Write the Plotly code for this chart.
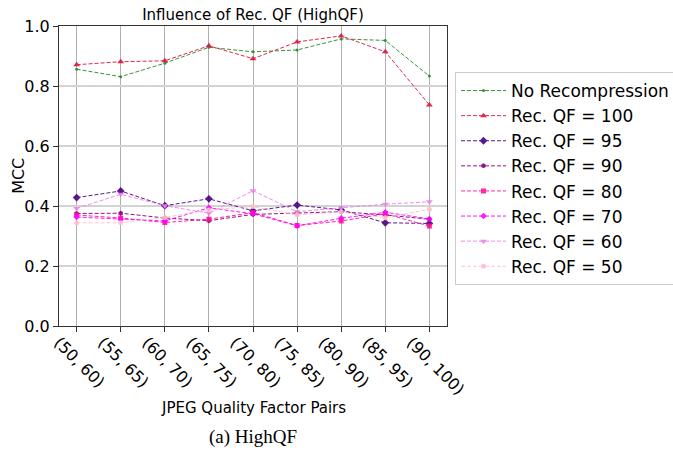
import plotly.graph_objects as go

pairs = ["(50, 60)", "(55, 65)", "(60, 70)", "(65, 75)", "(70, 80)",
         "(75, 85)", "(80, 90)", "(85, 95)", "(90, 100)"]

no_recomp = [0.856, 0.831, 0.876, 0.929, 0.914, 0.920, 0.957, 0.952, 0.833]
qf100 = [0.871, 0.881, 0.884, 0.934, 0.891, 0.947, 0.967, 0.914, 0.737]
qf95 = [0.428, 0.450, 0.401, 0.424, 0.384, 0.403, 0.387, 0.344, 0.342]
qf90 = [0.375, 0.376, 0.360, 0.351, 0.372, 0.376, 0.381, 0.370, 0.356]
qf80 = [0.370, 0.360, 0.345, 0.356, 0.378, 0.335, 0.350, 0.374, 0.333]
qf70 = [0.363, 0.356, 0.350, 0.394, 0.374, 0.334, 0.359, 0.379, 0.357]
qf60 = [0.392, 0.439, 0.401, 0.376, 0.451, 0.381, 0.394, 0.406, 0.414]
qf50 = [0.344, 0.344, 0.362, 0.387, 0.398, 0.370, 0.381, 0.361, 0.389]

series = [
    ("No Recompression", no_recomp, "#228b22", "circle", 3),
    ("Rec. QF = 100", qf100, "#dc143c", "triangle-up", 6),
    ("Rec. QF = 95", qf95, "#4b0082", "diamond", 6),
    ("Rec. QF = 90", qf90, "#800080", "hexagon", 5),
    ("Rec. QF = 80", qf80, "#ff1493", "square", 5),
    ("Rec. QF = 70", qf70, "#ff00ff", "diamond", 5),
    ("Rec. QF = 60", qf60, "#ee82ee", "triangle-down", 6),
    ("Rec. QF = 50", qf50, "#ffc0cb", "circle", 5),
]

fig = go.Figure()
for name, vals, col, sym, sz in series:
    fig.add_trace(go.Scatter(
        x=pairs, y=vals, name=name, mode="lines+markers",
        line=dict(color=col, width=1, dash="4px,2px"),
        marker=dict(color=col, symbol=sym, size=sz),
        opacity=0.9,
    ))

# plot area: x 59..447, y 26..326 (px)
fig.update_layout(
    width=673, height=450,
    margin=dict(l=59, r=226, t=26, b=124),
    paper_bgcolor="white", plot_bgcolor="white",
    font=dict(family="DejaVu Sans", size=16, color="black"),
    title=dict(text="Influence of Rec. QF (HighQF)", x=253 / 673, xanchor="center",
               y=1 - 15 / 450, yanchor="middle", font=dict(size=15)),
    legend=dict(xref="container", yref="container", x=455 / 673, y=1 - 72 / 450,
                xanchor="left", yanchor="top", itemwidth=45,
                bordercolor="#cccccc", borderwidth=1, font=dict(size=17)),
    annotations=[
        dict(text="JPEG Quality Factor Pairs", xref="paper", yref="paper",
             x=0.5, y=-0.273, xanchor="center", yanchor="middle", showarrow=False,
             font=dict(size=15)),
        dict(text="MCC", xref="paper", yref="paper", textangle=-90,
             x=-0.106, y=0.5, xanchor="center", yanchor="middle", showarrow=False,
             font=dict(size=16)),
        dict(text="(a) HighQF", xref="paper", yref="paper",
             x=0.5, y=-0.37, xanchor="center", yanchor="middle", showarrow=False,
             font=dict(family="Liberation Serif", size=19, color="black")),
    ],
)
fig.update_xaxes(
    range=[-0.4, 8.4], tickangle=45, ticklabelshift=-18, ticklabelstandoff=-5,
    automargin=False,
    showgrid=True, gridcolor="#b0b0b0", gridwidth=1,
    showline=True, mirror=True, linecolor="#333333", linewidth=1,
    ticks="outside", ticklen=5, tickcolor="#333333",
)
fig.update_yaxes(
    range=[0, 1], dtick=0.2, tickformat=".1f", automargin=False,
    showgrid=True, gridcolor="#d3d3d3", gridwidth=2,
    showline=True, mirror=True, linecolor="#333333", linewidth=1,
    ticks="outside", ticklen=5, tickcolor="#333333",
    zeroline=False,
)

fig.write_html("out.html", config={"displayModeBar": False},
               post_script="document.body.style.margin='0';")
